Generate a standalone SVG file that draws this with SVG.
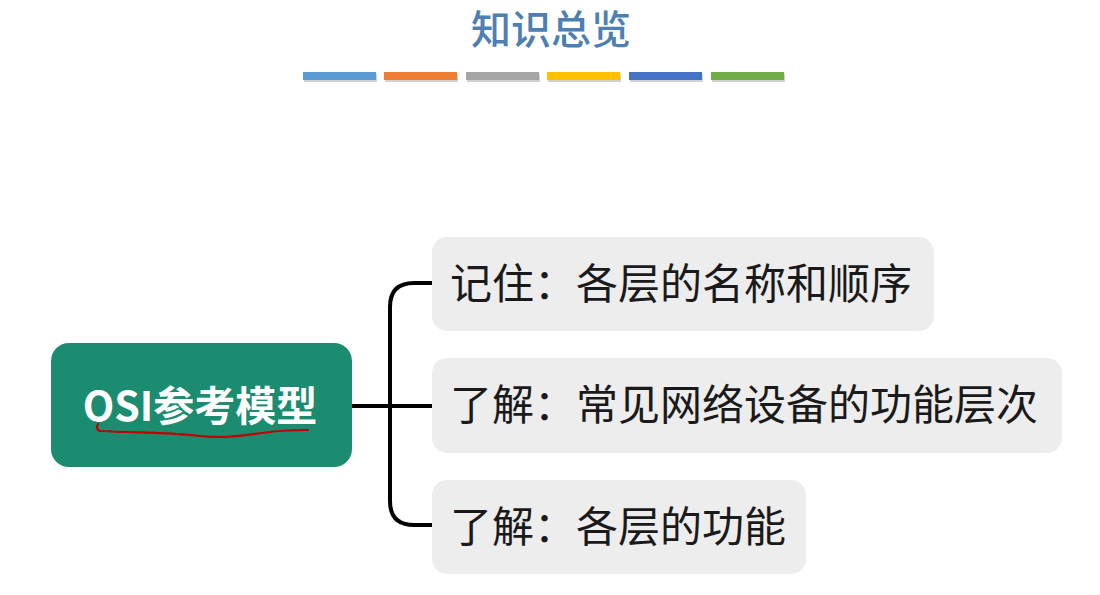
<svg xmlns="http://www.w3.org/2000/svg" width="1100" height="595" viewBox="0 0 1100 595">
<defs>
<style>
.title{font-family:"Noto Sans CJK SC","Liberation Sans",sans-serif;font-size:40px;font-weight:500;fill:#4d7fb2;text-anchor:middle}
.bar{stroke:none}
.shadow{fill:#000;opacity:0.18}
.child{fill:#ededed}
.ctext{font-family:"Noto Sans CJK SC","Liberation Sans",sans-serif;font-size:42px;fill:#1a1a1a}
.main{fill:#1b8c6f}
.mtext{font-family:"Noto Sans CJK SC","Liberation Sans",sans-serif;font-size:41px;font-weight:bold;fill:#ffffff;text-anchor:middle}
.conn{fill:none;stroke:#000;stroke-width:4;stroke-linecap:butt}
</style>
</defs>
<rect width="1100" height="595" fill="#ffffff"/>
<text class="title" x="551" y="44">知识总览</text>
<g id="bars">
<rect class="shadow" x="304" y="74" width="73" height="8"/>
<rect class="bar" x="303" y="72" width="73" height="8" fill="#5b9bd5"/>
<rect class="shadow" x="385" y="74" width="73" height="8"/>
<rect class="bar" x="384" y="72" width="73" height="8" fill="#ed7d31"/>
<rect class="shadow" x="467" y="74" width="73" height="8"/>
<rect class="bar" x="466" y="72" width="73" height="8" fill="#a5a5a5"/>
<rect class="shadow" x="548" y="74" width="73" height="8"/>
<rect class="bar" x="547" y="72" width="73" height="8" fill="#ffc000"/>
<rect class="shadow" x="630" y="74" width="73" height="8"/>
<rect class="bar" x="629" y="72" width="73" height="8" fill="#4472c4"/>
<rect class="shadow" x="712" y="74" width="73" height="8"/>
<rect class="bar" x="711" y="72" width="73" height="8" fill="#70ad47"/>
</g>
<g id="connectors">
<path class="conn" d="M352 406 H390"/>
<path class="conn" d="M432 283 H414 Q390 283 390 307 V501 Q390 525 414 525 H432"/>
<path class="conn" d="M390 406 H432"/>
</g>
<g id="node-main">
<rect class="main" x="51" y="343" width="301" height="124" rx="18"/>
<text class="mtext" x="200" y="421">OSI参考模型</text>
<path d="M98 424 Q95 429 100 431 C140 433 170 432 200 436 C230 439 250 434 270 432 C285 430 298 430 308 430" fill="none" stroke="#c00000" stroke-width="2.2" stroke-linecap="round"/>
</g>
<g id="node-1">
<rect class="child" x="432" y="237" width="502" height="94" rx="15"/>
<text class="ctext" x="450" y="299">记住：各层的名称和顺序</text>
</g>
<g id="node-2">
<rect class="child" x="432" y="358" width="630" height="95" rx="15"/>
<text class="ctext" x="450" y="420">了解：常见网络设备的功能层次</text>
</g>
<g id="node-3">
<rect class="child" x="432" y="480" width="374" height="94" rx="15"/>
<text class="ctext" x="450" y="542">了解：各层的功能</text>
</g>
</svg>
